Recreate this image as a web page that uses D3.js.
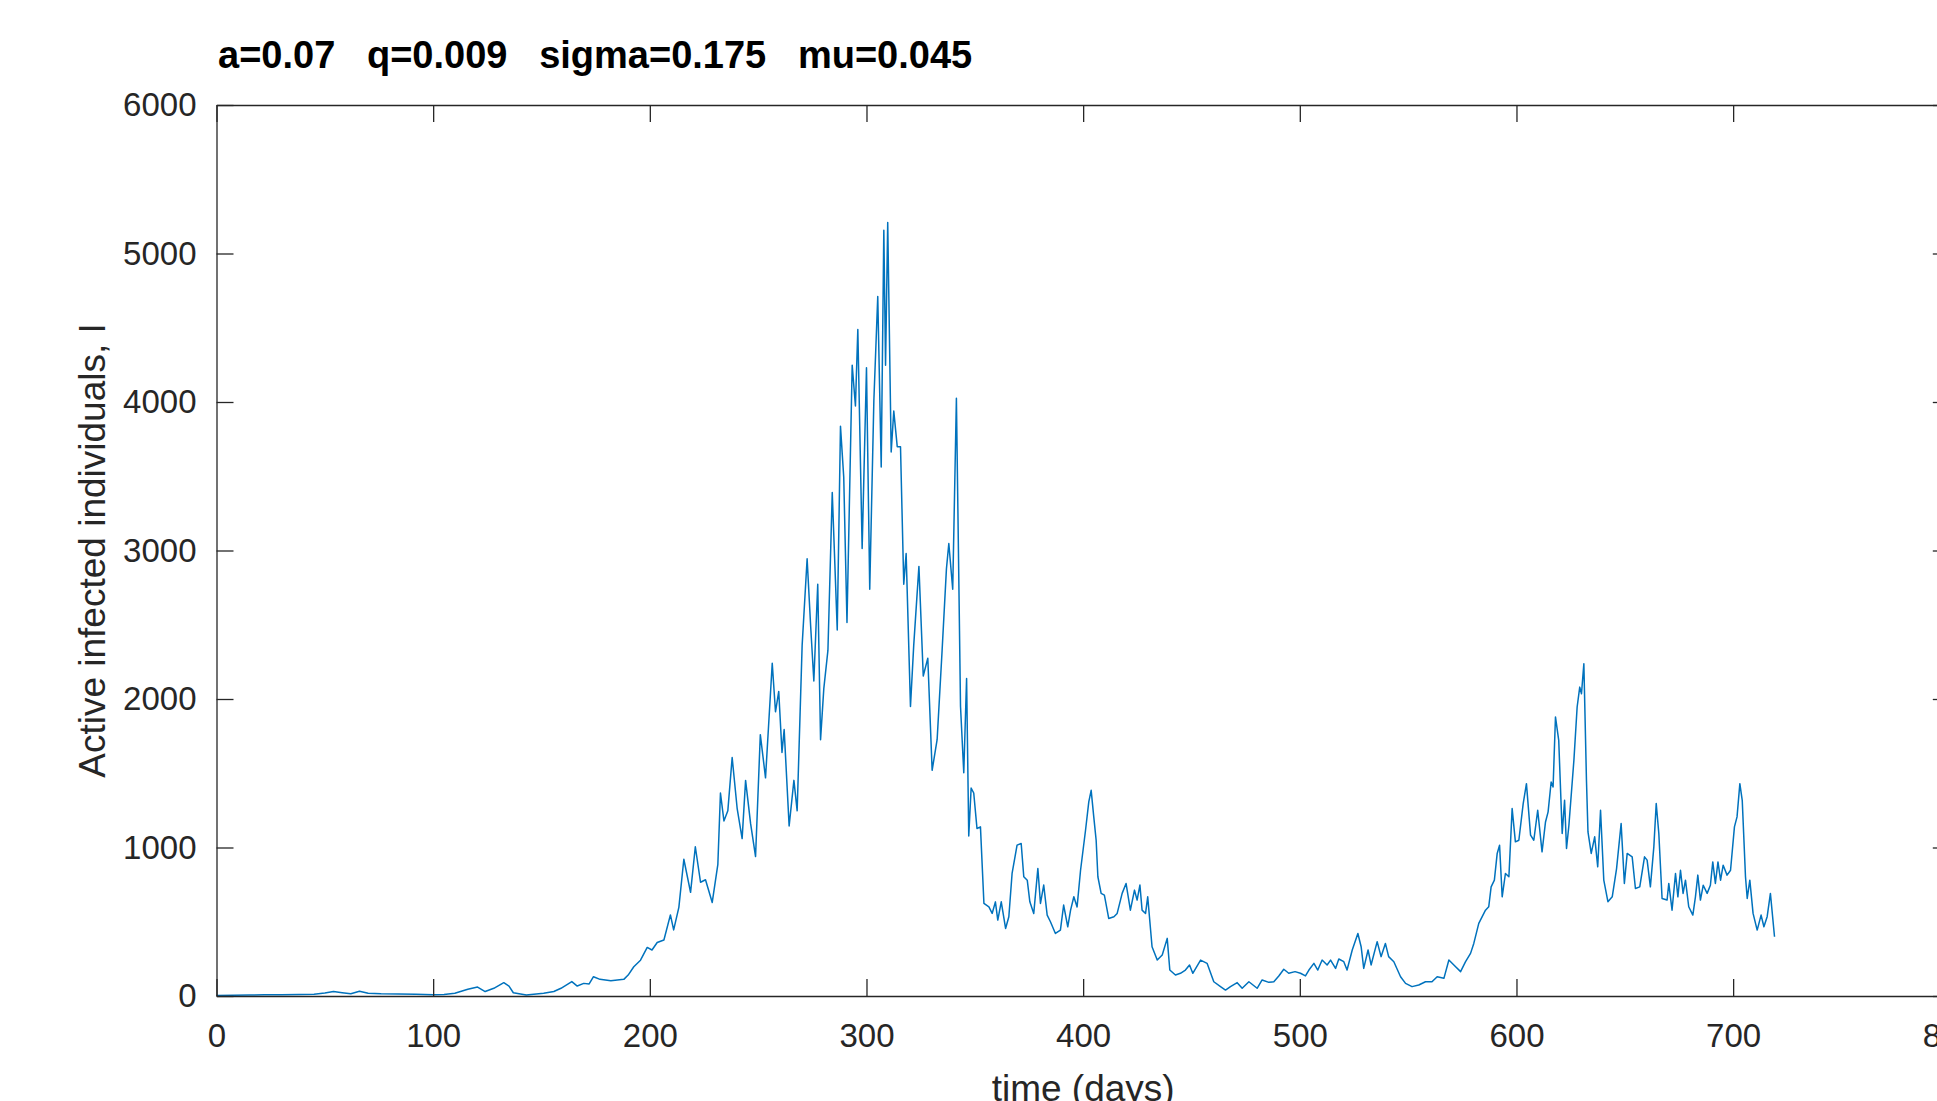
<!DOCTYPE html>
<html>
<head>
<meta charset="utf-8">
<script src="https://cdn.jsdelivr.net/npm/d3@7"></script>
<style>
  body { margin: 0; background: #fff; overflow: hidden; }
  svg { display: block; font-family: "Liberation Sans", Arial, sans-serif; }
</style>
</head>
<body>
<script>
// values
const days = [
  0, 8, 15, 22, 30, 38, 45, 50, 54, 58, 62, 66, 70, 76, 84, 92, 100, 105, 110, 116,
  120.5, 124, 128, 132.6, 135, 137, 143, 151, 155.7, 159, 164, 166.5, 169.5, 172, 174, 177, 182, 188, 190, 192.6,
  195.7, 198.8, 201, 203.4, 206.5, 209.5, 211, 213.4, 215.7, 218.8, 221, 223.4, 225.7, 228.8, 231.4, 232.6, 234.2, 236, 238, 240.3,
  242.6, 244.2, 246.5, 248.8, 251, 253.4, 256.5, 258, 259.5, 261, 262, 264.3, 266.5, 268, 270.3, 272.6, 274.2, 275.7, 277.5, 278.8,
  280.3, 282.2, 284.2, 286.5, 288, 289.5, 291, 293.4, 294.9, 296, 298, 300, 301.5, 303.4, 305.2, 306.8, 308, 308.8, 309.8, 311.4,
  312.6, 314.2, 315.7, 317.2, 318.3, 320.3, 321.8, 324.2, 326.2, 328.3, 330.3, 332.6, 334.9, 336.9, 338, 339.8, 341.5, 343.4, 344.9, 346.2,
  347.2, 348.3, 349.5, 351, 352.6, 354.2, 356.5, 358, 359.5, 360.6, 362.2, 364.2, 365.7, 367.2, 369.5, 371.4, 372.6, 374.2, 375.4, 377.2,
  379.1, 380.3, 381.8, 383.4, 384.9, 387.2, 389.5, 391, 392.9, 394.2, 395.7, 397.2, 398.8, 401.1, 402.6, 403.7, 404.9, 406, 406.8, 408.3,
  409.8, 411.8, 414.2, 415.7, 418, 419.8, 421.8, 423.7, 424.9, 426.2, 427.2, 428.8, 429.8, 431.8, 434.2, 436.5, 438.8, 440, 442.6, 444.9,
  447.2, 449.1, 450.6, 454.2, 457.2, 460.3, 463.4, 465.7, 468, 471.1, 473.4, 476.5, 480.3, 482.6, 485.7, 488, 490.3, 492.6, 494.9, 497.8,
  500.3, 502.6, 504.2, 506.5, 508.3, 510.3, 512.6, 514.2, 516.5, 518, 520.3, 521.8, 524.2, 526.8, 528.3, 529.5, 531.5, 532.9, 535.7, 537.5,
  539.5, 541, 543.4, 546.5, 548.8, 551.8, 554.9, 558, 561, 563.4, 566.5, 568.8, 571.1, 574.2, 576.5, 578.8, 580.3, 582.6, 585.7, 587.2,
  588.3, 589.8, 591.1, 592.2, 593.4, 594.9, 596.5, 598, 599.5, 601.1, 603.1, 604.6, 606.5, 608, 609.8, 611.8, 613.4, 614.6, 616, 616.9,
  618, 619.5, 621.1, 622.2, 623.1, 624.2, 626.5, 628, 629.2, 630, 631.1, 632.3, 633, 634.5, 636.1, 637.5, 638.8, 640.3, 642.2, 644.2,
  646.2, 648.3, 649.8, 651.1, 653.4, 654.9, 656.9, 659.1, 660.3, 661.8, 663.4, 664.5, 665.7, 667.2, 669.5, 670.3, 671.8, 673.4, 674.5, 675.7,
  676.9, 678, 679.5, 681.4, 682.6, 683.7, 684.9, 686.2, 688, 689.5, 690.6, 691.8, 693, 694.2, 695.4, 697.2, 698.8, 700.6, 701.8, 703.1,
  704.2, 705.7, 706.5, 707.7, 709.2, 711.1, 712.9, 714.2, 715.7, 717.2, 719.1
];
const infected = [
  3, 5, 6, 8, 8, 10, 12, 20, 30, 22, 15, 32, 18, 15, 14, 12, 8, 10, 18, 45,
  60, 30, 52, 90, 67, 22, 7, 18, 30, 52, 97, 67, 85, 81, 130, 112, 103, 112, 141, 197,
  241, 327, 310, 360, 377, 546, 445, 597, 921, 698, 1005, 766, 783, 630, 887, 1367, 1179, 1247, 1606, 1264,
  1060, 1452, 1162, 939, 1760, 1469, 2241, 1914, 2051, 1640, 1794, 1145, 1452, 1247, 2361, 2944, 2498, 2121, 2773, 1726,
  2070, 2327, 3390, 2464, 3836, 3493, 2515, 4248, 3973, 4488, 3013, 4231, 2739, 4008, 4711, 3562, 5157, 4248, 5208, 3664,
  3939, 3699, 3699, 2773, 2979, 1949, 2361, 2893, 2155, 2275, 1520, 1726, 2327, 2876, 3047, 2739, 4025, 1949, 1503, 2138,
  1077, 1400, 1367, 1128, 1139, 623, 600, 556, 634, 511, 634, 455, 534, 825, 1016, 1027, 803, 780, 634, 556,
  859, 623, 747, 545, 500, 421, 444, 612, 466, 578, 668, 600, 847, 1116, 1307, 1385, 1206, 1049, 803, 691,
  679, 522, 534, 556, 691, 758, 578, 713, 646, 747, 578, 556, 668, 332, 242, 276, 388, 175, 141, 153,
  175, 209, 153, 242, 220, 96, 63, 40, 63, 90, 52, 96, 52, 108, 92, 96, 135, 180, 153, 164,
  153, 135, 175, 220, 175, 242, 209, 242, 186, 249, 231, 175, 310, 421, 332, 186, 310, 209, 366, 265,
  354, 265, 231, 130, 85, 63, 74, 96, 96, 130, 119, 242, 209, 164, 231, 287, 354, 489, 578, 601,
  735, 780, 960, 1015, 668, 825, 803, 1262, 1038, 1049, 1296, 1430, 1083, 1049, 1251, 971, 1172, 1240, 1441, 1408,
  1879, 1722, 1094, 1318, 993, 1150, 1587, 1946, 2080, 2035, 2237, 1453, 1105, 960, 1072, 870, 1251, 780, 635, 668,
  858, 1161, 758, 960, 937, 724, 735, 937, 915, 735, 1004, 1296, 1094, 657, 646, 758, 578, 825, 668, 847,
  691, 780, 601, 545, 668, 814, 646, 746, 691, 746, 903, 758, 903, 780, 881, 814, 847, 1139, 1206, 1430,
  1318, 803, 657, 780, 556, 444, 545, 466, 534, 691, 399
];
const xTicks = [0, 100, 200, 300, 400, 500, 600, 700, 800];
const yTicks = [0, 1000, 2000, 3000, 4000, 5000, 6000];
const titleText = "a=0.07   q=0.009   sigma=0.175   mu=0.045";
const xLabel = "time (days)";
const yLabel = "Active infected individuals, I";

window.onload = function() {
  const w = 1937;
  const h = 1101;
  const left = 216.5, right = 1949.8, top = 105, bottom = 996;
  const tick = 17;
  const axisColor = "#262626";

  let svg = d3.select("body")
    .append("svg")
    .attr("width", w)
    .attr("height", h);

  let xScale = d3.scaleLinear().domain([0, 800]).range([left, right]);
  let yScale = d3.scaleLinear().domain([0, 6000]).range([bottom, top]);

  let points = days.map(function(d, i) { return {x: d, y: infected[i]}; });

  // the data line
  let line = d3.line()
    .x(function(d) { return xScale(d.x); })
    .y(function(d) { return yScale(d.y); });

  svg.append("path")
    .datum(points)
    .attr("fill", "none")
    .attr("stroke", "#0072BD")
    .attr("stroke-width", 1.5)
    .attr("stroke-linejoin", "round")
    .attr("d", line);

  // axes, ticks pointing inward like matlab
  let xAxis = d3.axisBottom(xScale).tickValues(xTicks).tickSize(-tick).tickSizeOuter(0)
    .tickPadding(28).tickFormat(d3.format("d"));
  let yAxis = d3.axisLeft(yScale).tickValues(yTicks).tickSize(-tick).tickSizeOuter(0)
    .tickPadding(20).tickFormat(d3.format("d"));
  let xTop = d3.axisTop(xScale).tickValues(xTicks).tickSize(-tick).tickSizeOuter(0).tickFormat("");
  let yRight = d3.axisRight(yScale).tickValues(yTicks).tickSize(-tick).tickSizeOuter(0).tickFormat("");

  let gx = svg.append("g").attr("transform", "translate(0," + bottom + ")").call(xAxis);
  let gy = svg.append("g").attr("transform", "translate(" + left + ",0)").call(yAxis);
  let gt = svg.append("g").attr("transform", "translate(0," + top + ")").call(xTop);
  let gr = svg.append("g").attr("transform", "translate(" + right + ",0)").call(yRight);

  [gx, gy, gt, gr].forEach(function(g) {
    g.selectAll("path.domain").attr("stroke", axisColor).attr("stroke-width", 1.3);
    g.selectAll(".tick line").attr("stroke", axisColor).attr("stroke-width", 1.3);
    g.selectAll(".tick text")
      .attr("fill", axisColor)
      .style("font-size", "33px")
      .style("font-family", "'Liberation Sans', Arial, sans-serif");
  });

  // axis labels (xlabel runs off the bottom edge, as in the original)
  svg.append("text")
    .attr("x", (left + right) / 2)
    .attr("y", 1101)
    .attr("text-anchor", "middle")
    .attr("fill", axisColor)
    .style("font-size", "37px")
    .text(xLabel);

  svg.append("text")
    .attr("transform", "translate(105," + ((top + bottom) / 2) + ") rotate(-90)")
    .attr("text-anchor", "middle")
    .attr("fill", axisColor)
    .style("font-size", "37px")
    .text(yLabel);

  // title
  svg.append("text")
    .attr("x", 218)
    .attr("y", 68)
    .attr("fill", "#000")
    .style("font-size", "38px")
    .style("font-weight", "bold")
    .style("white-space", "pre")
    .text(titleText);
};
</script>
</body>
</html>
